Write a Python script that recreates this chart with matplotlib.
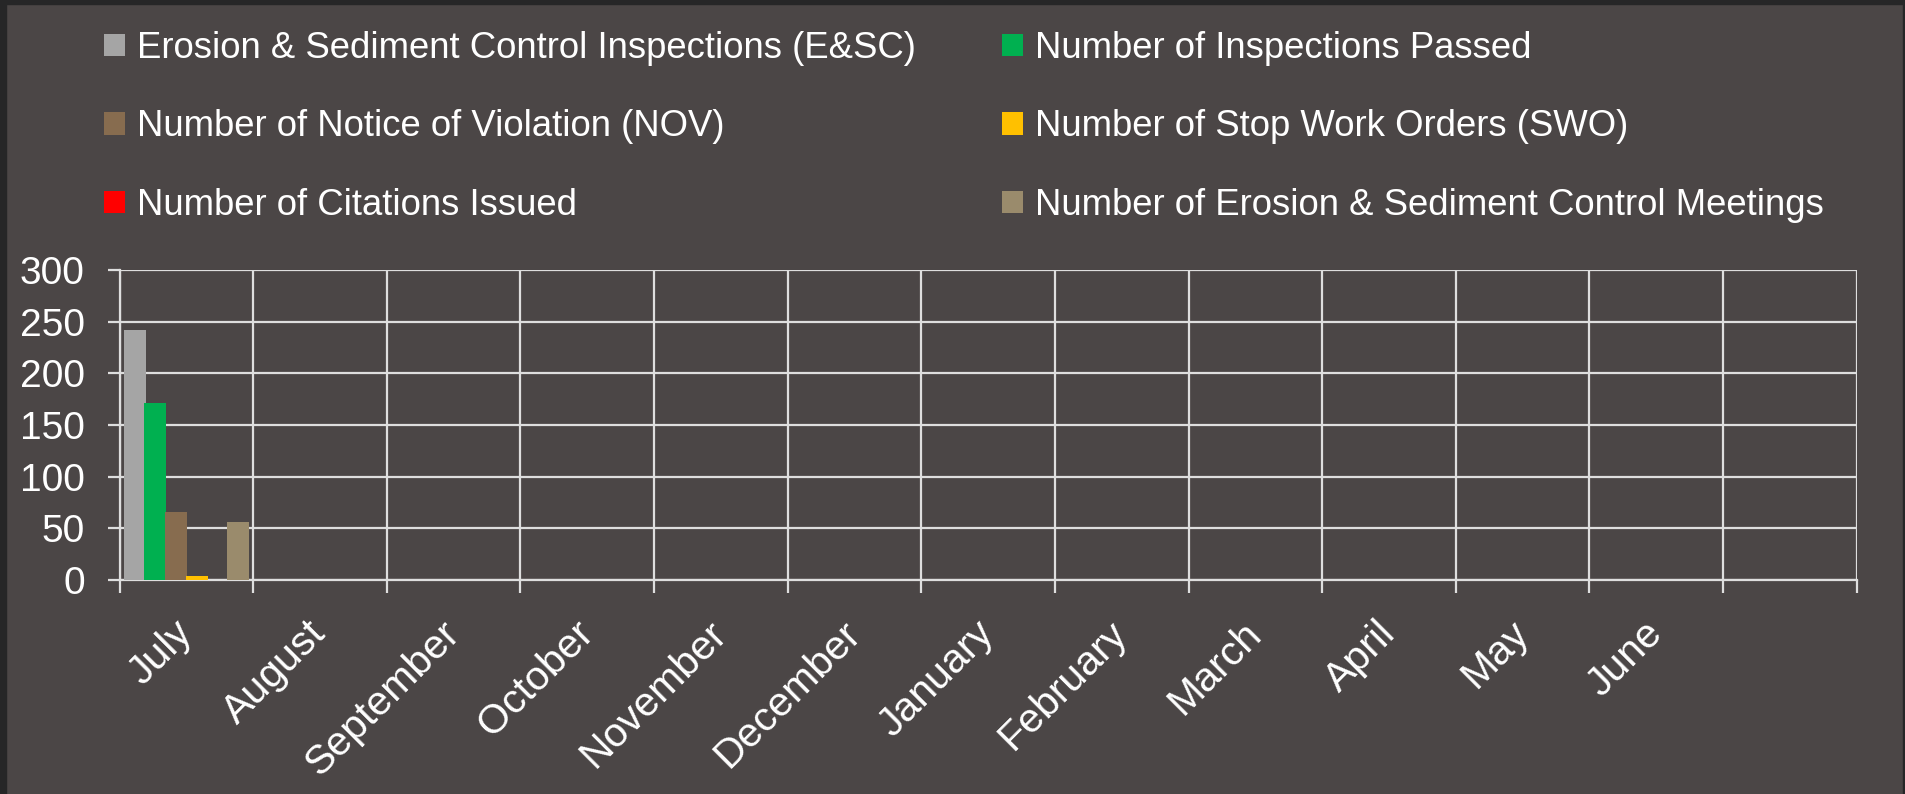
import numpy as np
import matplotlib
matplotlib.use("Agg")
import matplotlib.pyplot as plt
from matplotlib.patches import Rectangle

plt.rcParams["font.family"] = ["Liberation Sans", "DejaVu Sans"]

months = ["July", "August", "September", "October", "November", "December",
          "January", "February", "March", "April", "May", "June", ""]

series_names = [
    "Erosion & Sediment Control Inspections (E&SC)",
    "Number of Inspections Passed",
    "Number of Notice of Violation (NOV)",
    "Number of Stop Work Orders (SWO)",
    "Number of Citations Issued",
    "Number of Erosion & Sediment Control Meetings",
]
series_colors = ["#a5a5a5", "#00b050", "#876c4f", "#ffc000", "#ff0000", "#9a8b6c"]

nan = np.nan
esc_inspections = [242] + [nan] * 12
inspections_passed = [171] + [nan] * 12
nov_count = [66] + [nan] * 12
swo_count = [4] + [nan] * 12
citations = [0] + [nan] * 12
esc_meetings = [56] + [nan] * 12
series_values = [esc_inspections, inspections_passed, nov_count,
                 swo_count, citations, esc_meetings]

W, H = 1905, 794
bg = "#4b4646"
grid_c = "#dedede"
fig = plt.figure(figsize=(W / 100, H / 100), dpi=100, facecolor=bg)

# dark frame strips at the slide edges
edge = "#262627"
fig.add_artist(Rectangle((0, 0), 6 / W, 1, transform=fig.transFigure, color=edge, zorder=0))
fig.add_artist(Rectangle((0, 1 - 4 / H), 1, 4 / H, transform=fig.transFigure, color=edge, zorder=0))
fig.add_artist(Rectangle((1 - 2 / W, 0), 2 / W, 1, transform=fig.transFigure, color=edge, zorder=0))

ax = fig.add_axes([119.5 / W, 1 - 580 / H, (1856.7 - 119.5) / W, 310 / H])
ax.set_facecolor("none")

x = np.arange(len(months))
bar_w = 0.165
step = 0.154
bars = []
for i, (name, vals, col) in enumerate(zip(series_names, series_values, series_colors)):
    b = ax.bar(x + (i - 2.5) * step, vals, width=bar_w, color=col, label=name, zorder=3)
    bars.append(b)

ax.set_xlim(-0.5, len(months) - 0.5)
ax.set_ylim(0, 300)
ax.set_yticks(np.arange(0, 301, 50))

# category boundaries carry the tick marks and grid, labels sit at centres
ax.set_xticks(np.arange(-0.5, len(months)))
ax.set_xticklabels([])
ax.set_xticks(x, minor=True)
ax.set_xticklabels(months, minor=True, rotation=45, ha="right", va="center",
                   rotation_mode="anchor")

ax.grid(True, which="major", color=grid_c, lw=1.6, zorder=1)
ax.tick_params(axis="x", which="major", length=9, width=1.6, color=grid_c, direction="out")
ax.tick_params(axis="x", which="minor", length=0, pad=34, labelsize=29.5, labelcolor="white")
ax.tick_params(axis="y", length=9, width=1.6, color=grid_c, pad=16, labelsize=28, labelcolor="white")
for side in ["top", "right"]:
    ax.spines[side].set_visible(False)
for side in ["left", "bottom"]:
    ax.spines[side].set_color(grid_c)
    ax.spines[side].set_linewidth(1.6)

leg_kw = dict(loc="upper left", frameon=False, fontsize=26.3, labelcolor="white",
              handlelength=0.58, handleheight=0.58, handletextpad=0.33,
              labelspacing=1.19, borderpad=0, borderaxespad=0)
fig.legend([bars[0], bars[2], bars[4]], [series_names[0], series_names[2], series_names[4]],
           bbox_to_anchor=(104 / W, 1 - 31 / H), **leg_kw)
fig.legend([bars[1], bars[3], bars[5]], [series_names[1], series_names[3], series_names[5]],
           bbox_to_anchor=(1002 / W, 1 - 31 / H), **leg_kw)

fig.savefig("out.png", dpi=100, facecolor=bg)
